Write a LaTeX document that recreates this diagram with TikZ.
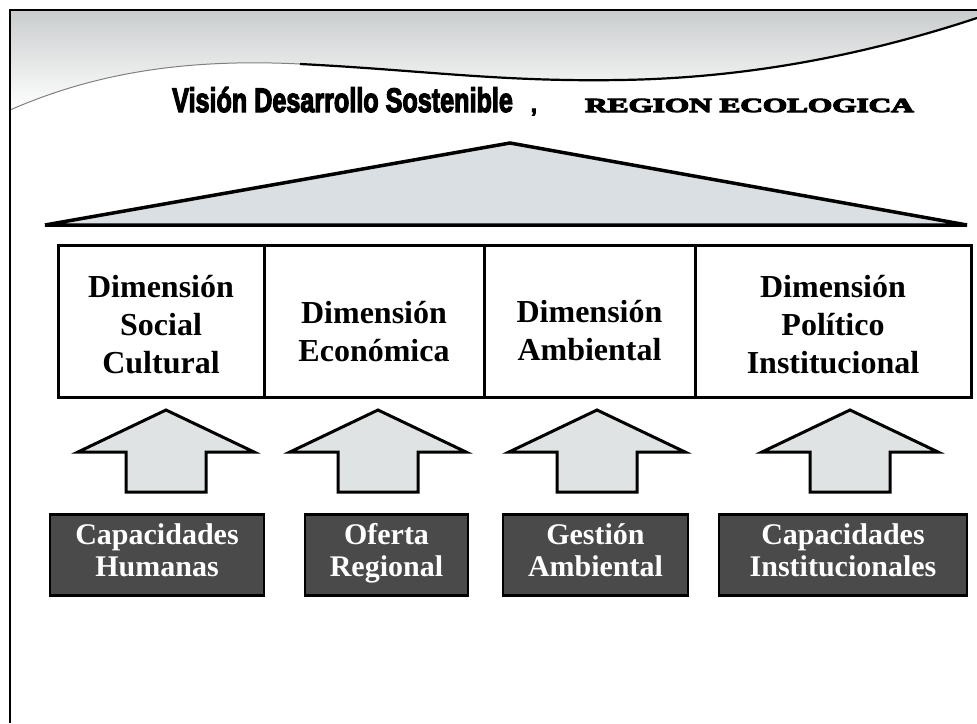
\documentclass[tikz,border=0pt]{standalone}
\usepackage{fontspec}
\setmainfont{Liberation Serif}
\newfontfamily\headfont[UprightFont={* Bold}, FakeBold=4]{Liberation Sans}
\newfontfamily\regionfont[UprightFont={* Bold}, FakeBold=5]{Liberation Serif}
\usepackage{graphicx}
\usetikzlibrary{positioning}
\definecolor{roofFill}{HTML}{D9DFE2}
\definecolor{arrowFill}{HTML}{E0E3E4}
\definecolor{baseDark}{HTML}{4A4A4A}
\definecolor{headGray}{HTML}{C9CCCD}

\begin{document}
\begin{tikzpicture}[x=1pt, y=-1pt,
    dimbox/.style={rectangle, draw=black, line width=3pt, outer sep=0pt,
                   minimum height=152pt, inner sep=0pt},
    dimtext/.style={align=center, inner sep=0pt,
                    font=\bfseries\fontsize{32}{38}\selectfont},
    basebox/.style={rectangle, draw=black, line width=2.5pt, fill=baseDark,
                    minimum height=81pt, inner sep=0pt, align=center,
                    text=white, font=\bfseries\fontsize{30}{32}\selectfont,
                    execute at begin node={\strut},
                    execute at end node={\strut}},
    uparrow/.style={draw=black, line width=3pt, fill=arrowFill, line join=miter},
  ]
    \useasboundingbox (0,0) rectangle (977,723);

    % header band with the swoosh
    \shade[top color=headGray, bottom color=white]
      (10,10) -- (977,10) -- (977,18)
      .. controls (880,50) and (760,78) .. (620,80)
      .. controls (500,82) and (420,70) .. (300,64)
      .. controls (180,58) and (90,75) .. (10,110) -- cycle;
    \draw[gray, line width=1pt]
      (10,110) .. controls (90,75) and (180,58) .. (300,64);
    \draw[black, line width=2.2pt]
      (300,64) .. controls (420,70) and (500,82) .. (620,80)
      .. controls (760,78) and (880,50) .. (977,18);
    \draw[line width=1.5pt] (10,723) -- (10,10) -- (977,10);

    \node[anchor=base west, inner sep=0pt] (title) at (172,112)
      {\headfont\scalebox{0.74}[1]{\fontsize{34}{34}\selectfont Visión Desarrollo Sostenible}\hspace{18pt}\fontsize{22}{22}\selectfont,};
    \node[anchor=base west, inner sep=0pt] (region) at (585,112)
      {\regionfont\scalebox{1.56}[1]{\fontsize{20}{20}\selectfont REGION ECOLOGICA}};

    % roof
    \draw[line width=3.5pt, fill=roofFill, line join=miter]
      (45,225) -- (510,143) -- (967,225) -- cycle;

    % the four dimensions
    \node[dimbox, minimum width=206pt,
          label={[dimtext, yshift=-4pt]center:{Dimensión\\Social\\Cultural}}]
      (social) at (161,321) {};
    \node[dimbox, minimum width=220pt, right=0pt of social,
          label={[dimtext, yshift=-11pt]center:{Dimensión\\Económica}}]
      (economica) {};
    \node[dimbox, minimum width=211pt, right=0pt of economica,
          label={[dimtext, yshift=-10pt]center:{Dimensión\\Ambiental}}]
      (ambiental) {};
    \node[dimbox, minimum width=276pt, right=0pt of ambiental,
          label={[dimtext, yshift=-4pt]center:{Dimensión\\Político\\Institucional}}]
      (politico) {};

    % up arrows
    \foreach \x in {166,378,597,850}
      \draw[uparrow] (\x-40,492) -- (\x+40,492) -- (\x+40,452) -- (\x+88,452)
        -- (\x,410) -- (\x-88,452) -- (\x-40,452) -- cycle;

    % bases
    \node[basebox, minimum width=214pt] (humanas) at (157,555)
      {Capacidades\\Humanas};
    \node[basebox, minimum width=163pt] (oferta) at (386.5,555)
      {Oferta\\Regional};
    \node[basebox, minimum width=185pt] (gestion) at (595.5,555)
      {Gestión\\Ambiental};
    \node[basebox, minimum width=248pt] (instit) at (843,555)
      {Capacidades\\Institucionales};
\end{tikzpicture}
\end{document}
